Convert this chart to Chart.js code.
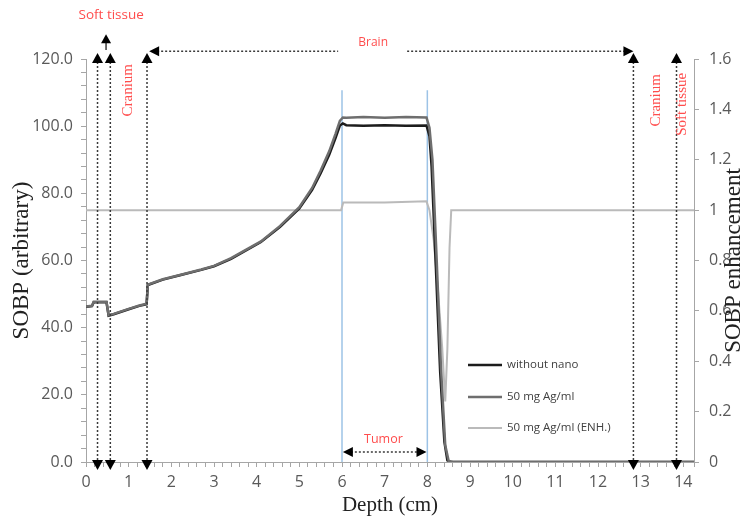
<!DOCTYPE html>
<html>
<head>
<meta charset="utf-8">
<script src="https://cdn.jsdelivr.net/npm/chart.js@4"></script>
<style>
  html, body { margin: 0; padding: 0; background: #fff; }
  canvas { display: block; }
</style>
</head>
<body>
<canvas id="chart" width="749" height="522"></canvas>
<script>
// SOBP without nanoparticles
const depthNoNano = [0, 0.14, 0.18, 0.48, 0.53, 0.65, 1.0, 1.25, 1.42, 1.45, 1.8, 2.2, 2.7, 3.0, 3.4, 4.1, 4.55, 5.0, 5.3, 5.5, 5.7, 5.85, 5.95, 6.02, 6.1, 6.5, 7.0, 7.5, 7.98, 8.05, 8.1, 8.2, 8.3, 8.4, 8.47, 8.55, 14.25];
const sobpNoNano  = [46.2, 46.4, 47.6, 47.6, 43.6, 44.0, 45.5, 46.5, 47.0, 52.7, 54.3, 55.6, 57.2, 58.3, 60.5, 65.5, 70.0, 75.5, 81.0, 86.0, 91.5, 96.5, 100.2, 100.8, 100.3, 100.1, 100.3, 100.1, 100.2, 97.0, 88.0, 58.0, 27.0, 6.0, 0.5, 0, 0];

// SOBP with 50 mg Ag/ml
const depthAg = [0, 0.14, 0.18, 0.48, 0.53, 0.65, 1.0, 1.25, 1.42, 1.45, 1.8, 2.2, 2.7, 3.0, 3.4, 4.1, 4.55, 5.0, 5.3, 5.5, 5.7, 5.85, 5.95, 6.02, 6.1, 6.5, 7.0, 7.5, 7.98, 8.05, 8.12, 8.22, 8.32, 8.42, 8.5, 8.6, 14.25];
const sobpAg    = [46.3, 46.5, 47.7, 47.7, 43.7, 44.1, 45.6, 46.6, 47.1, 52.8, 54.4, 55.7, 57.3, 58.4, 60.7, 65.7, 70.3, 75.9, 81.6, 86.8, 92.5, 97.8, 101.6, 102.6, 102.5, 102.7, 102.5, 102.7, 102.6, 99.5, 90.0, 60.0, 28.0, 5.0, 0.3, 0, 0];

// SOBP enhancement (right axis)
const depthEnh    = [0, 5.98, 6.03, 7.0, 7.98, 8.05, 8.15, 8.25, 8.35, 8.42, 8.47, 8.52, 8.56, 14.25];
const enhancement = [1.0, 1.0, 1.03, 1.03, 1.035, 1.0, 0.88, 0.68, 0.45, 0.24, 0.45, 0.85, 1.0, 1.0];

const tumorEdges = [6, 8];
const tumorLineTop = 110.7;
const boundaries = [0.27, 0.57, 1.43, 12.83, 13.84];
const seriesLabels = ['without nano', '50 mg Ag/ml', '50 mg Ag/ml (ENH.)'];

const toPoints = (xs, ys) => xs.map((x, i) => ({ x: x, y: ys[i] }));

const RED = '#ff4d4d';
const AXIS = '#a6a6a6';
const TICK_TEXT = '#595959';

function head(ctx, tx, ty, angle, len, half) {
  const bx = tx - len * Math.cos(angle);
  const by = ty - len * Math.sin(angle);
  ctx.beginPath();
  ctx.moveTo(tx, ty);
  ctx.lineTo(bx + half * Math.sin(angle), by - half * Math.cos(angle));
  ctx.lineTo(bx - half * Math.sin(angle), by + half * Math.cos(angle));
  ctx.closePath();
  ctx.fill();
}

function dotted(ctx, x1, y1, x2, y2) {
  ctx.setLineDash([2, 2]);
  ctx.beginPath();
  ctx.moveTo(x1, y1);
  ctx.lineTo(x2, y2);
  ctx.stroke();
  ctx.setLineDash([]);
}

function vtext(ctx, str, px, py) {
  ctx.save();
  ctx.translate(px, py);
  ctx.rotate(-Math.PI / 2);
  ctx.fillText(str, 0, 0);
  ctx.restore();
}

const annotations = {
  id: 'annotations',
  afterDraw(chart) {
    const { ctx, scales: { x, y } } = chart;
    const yTop = y.getPixelForValue(120);
    const yBot = y.getPixelForValue(0);
    ctx.save();
    ctx.strokeStyle = '#3a3a3a';
    ctx.fillStyle = '#000';
    ctx.lineWidth = 1.5;

    // tissue boundaries
    boundaries.forEach(b => {
      const px = x.getPixelForValue(b);
      dotted(ctx, px, yTop + 3, px, yBot - 2);
      head(ctx, px, yTop - 6, -Math.PI / 2, 10, 5.5);
      head(ctx, px, yBot + 8, Math.PI / 2, 10, 5.5);
    });

    // brain span
    const yb = y.getPixelForValue(122.3);
    const xl = x.getPixelForValue(1.48);
    const xr = x.getPixelForValue(12.83);
    const xc = x.getPixelForValue(6.73);
    dotted(ctx, xl + 8, yb, xc - 35, yb);
    dotted(ctx, xc + 34, yb, xr - 8, yb);
    head(ctx, xl, yb, Math.PI, 10, 5);
    head(ctx, xr, yb, 0, 10, 5);

    // soft tissue arrow
    const xs = x.getPixelForValue(0.47);
    ctx.beginPath();
    ctx.moveTo(xs, y.getPixelForValue(122.7));
    ctx.lineTo(xs, y.getPixelForValue(126));
    ctx.stroke();
    head(ctx, xs, y.getPixelForValue(127.4), -Math.PI / 2, 9, 5);

    // tumor span
    const yt = y.getPixelForValue(3);
    const t1 = x.getPixelForValue(6.02);
    const t2 = x.getPixelForValue(7.98);
    dotted(ctx, t1 + 8, yt, t2 - 8, yt);
    head(ctx, t1, yt, Math.PI, 10, 5);
    head(ctx, t2, yt, 0, 10, 5);

    // red labels
    ctx.fillStyle = RED;
    ctx.textAlign = 'center';
    ctx.textBaseline = 'middle';
    ctx.font = '13.5px "Open Sans"';
    ctx.fillText('Soft tissue', x.getPixelForValue(0.59), yTop - 44);
    ctx.font = '12px "Open Sans"';
    ctx.fillText('Brain', xc, yTop - 16);
    ctx.font = '12.5px "Open Sans"';
    ctx.fillText('Tumor', x.getPixelForValue(6.97), y.getPixelForValue(6.8));
    ctx.font = '15px "Liberation Serif"';
    vtext(ctx, 'Cranium', x.getPixelForValue(0.98), y.getPixelForValue(110.7));
    vtext(ctx, 'Cranium', x.getPixelForValue(13.35), y.getPixelForValue(107.7));
    vtext(ctx, 'Soft tissue', x.getPixelForValue(13.98), y.getPixelForValue(106.5));

    // right axis title
    ctx.fillStyle = '#222';
    ctx.font = '23px "Liberation Serif"';
    vtext(ctx, 'SOBP enhancement', 734, (chart.chartArea.top + chart.chartArea.bottom) / 2);

    // legend
    const legendY = [365, 397, 428];
    ctx.textAlign = 'left';
    ctx.font = '11.5px "Open Sans"';
    chart.data.datasets.slice(0, 3).forEach((ds, i) => {
      ctx.strokeStyle = ds.borderColor;
      ctx.lineWidth = ds.borderWidth;
      ctx.beginPath();
      ctx.moveTo(468, legendY[i]);
      ctx.lineTo(502, legendY[i]);
      ctx.stroke();
      ctx.fillStyle = '#404040';
      ctx.fillText(ds.label, 507, legendY[i]);
    });
    ctx.restore();
  }
};

const tickFont = { family: 'Open Sans', size: 16 };

new Chart(document.getElementById('chart'), {
  type: 'line',
  data: {
    datasets: [
      { label: seriesLabels[0], data: toPoints(depthNoNano, sobpNoNano), borderColor: '#1c1c1c', borderWidth: 2.5, yAxisID: 'y', order: 2 },
      { label: seriesLabels[1], data: toPoints(depthAg, sobpAg), borderColor: '#6e6e6e', borderWidth: 2.5, yAxisID: 'y', order: 1 },
      { label: seriesLabels[2], data: toPoints(depthEnh, enhancement), borderColor: '#bababa', borderWidth: 2, yAxisID: 'y2', order: 3 },
      { label: 'tumor start', data: [{ x: tumorEdges[0], y: 0 }, { x: tumorEdges[0], y: tumorLineTop }], borderColor: '#9dc3e6', borderWidth: 1.5, yAxisID: 'y', order: 4 },
      { label: 'tumor end', data: [{ x: tumorEdges[1], y: 0 }, { x: tumorEdges[1], y: tumorLineTop }], borderColor: '#9dc3e6', borderWidth: 1.5, yAxisID: 'y', order: 4 }
    ]
  },
  options: {
    responsive: false,
    animation: false,
    elements: { point: { radius: 0 }, line: { tension: 0, fill: false } },
    layout: { padding: { top: 59, left: 0, right: 0, bottom: 0 } },
    plugins: { legend: { display: false }, tooltip: { enabled: false } },
    scales: {
      x: {
        type: 'linear',
        min: 0,
        max: 14.25,
        afterFit: s => { s.height = 60; },
        ticks: {
          stepSize: 0.2,
          autoSkip: false,
          maxRotation: 0,
          padding: 6,
          color: TICK_TEXT,
          font: tickFont,
          callback: v => Math.abs(v - Math.round(v)) < 1e-6 ? String(Math.round(v)) : ''
        },
        grid: { drawOnChartArea: false, tickLength: 5, color: AXIS },
        border: { color: AXIS },
        title: { display: true, text: 'Depth (cm)', color: '#222', font: { family: 'Liberation Serif', size: 21 }, padding: { top: 0, bottom: 4 } }
      },
      y: {
        position: 'left',
        min: 0,
        max: 120,
        afterFit: s => { s.width = 86; },
        ticks: {
          stepSize: 4,
          autoSkip: false,
          padding: 8,
          color: TICK_TEXT,
          font: tickFont,
          callback: v => v % 20 === 0 ? v.toFixed(1) : ''
        },
        grid: { drawOnChartArea: false, tickLength: 5, color: AXIS },
        border: { color: AXIS },
        title: { display: true, text: 'SOBP (arbitrary)', color: '#222', font: { family: 'Liberation Serif', size: 23 }, padding: { top: 8, bottom: 0 } }
      },
      y2: {
        position: 'right',
        min: 0,
        max: 1.6,
        afterFit: s => { s.width = 55; },
        ticks: {
          stepSize: 0.2,
          padding: 10,
          color: TICK_TEXT,
          font: tickFont,
          callback: v => String(Number(v.toFixed(1)))
        },
        grid: { drawOnChartArea: false, tickLength: 5, color: AXIS },
        border: { color: AXIS }
      }
    }
  },
  plugins: [annotations]
});
</script>
</body>
</html>
